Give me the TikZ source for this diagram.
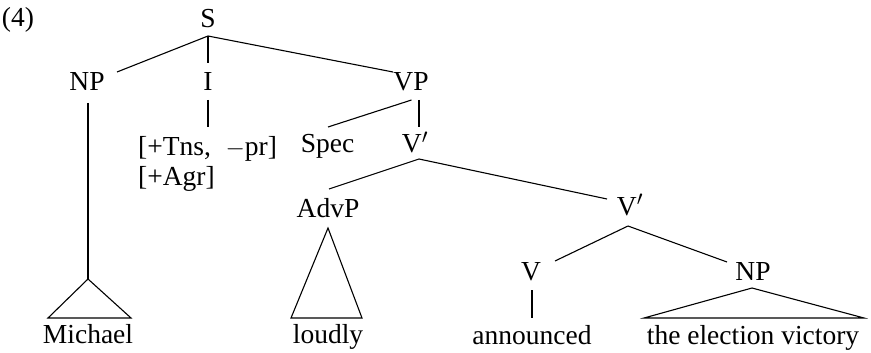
\documentclass[tikz,border=0pt]{standalone}
\usepackage{fontspec}
\setmainfont{Liberation Serif}
\begin{document}
\begin{tikzpicture}[x=1pt,y=-1pt,
  lbl/.style={anchor=base,inner sep=0pt,font=\fontsize{27.5}{30}\selectfont},
  edge/.style={line width=1.1pt},
  every path/.style={line join=miter}]
\useasboundingbox (0,0) rectangle (871,353);
% labels
\node[lbl] (ex) at (18,27) {(4)};
\node[lbl] (S) at (208,28) {S};
\node[lbl] (NP) at (87,90.5) {NP};
\node[lbl] (I) at (208,90.5) {I};
\node[lbl] (VP) at (411,90.5) {VP};
\node[lbl,anchor=base west] (feat) at (138,155) {[+Tns,\; $-$pr]};
\node[lbl,anchor=base west] (agr) at (138,185) {[+Agr]};
\node[lbl] (Spec) at (327.5,153) {Spec};
\node[lbl] (Vb) at (415,153) {V$'$};
\node[lbl] (AdvP) at (328,217) {AdvP};
\node[lbl] (Vb2) at (630,215) {V$'$};
\node[lbl] (V) at (531,280) {V};
\node[lbl] (NPb) at (753,280) {NP};
\node[lbl] (Mi) at (88,343) {Michael};
\node[lbl] (lo) at (328,343) {loudly};
\node[lbl] (an) at (532,344) {announced};
\node[lbl] (ev) at (753,344) {the election victory};
% connectors
\draw[edge] ([shift={(0,8)}]S.base) -- ([shift={(30,-18.5)}]NP.base);
\draw[edge] ([shift={(0,8)}]S.base) -- ([shift={(0,-27.5)}]I.base);
\draw[edge] ([shift={(0,8)}]S.base) -- ([shift={(-18,-18.5)}]VP.base);
\draw[edge] ([shift={(1,12.5)}]NP.base) -- ([shift={(0,-64)}]Mi.base);
\draw[edge] ([shift={(0,-64)}]Mi.base) -- ([shift={(-40,-25)}]Mi.base) -- ([shift={(43,-25)}]Mi.base) -- cycle;
\draw[edge] ([shift={(0,9.5)}]I.base) -- ([shift={(70,-28)}]feat.base west);
\draw[edge] ([shift={(0.5,9.5)}]VP.base) -- ([shift={(0.5,-26)}]Spec.base);
\draw[edge] ([shift={(8,9.5)}]VP.base) -- ([shift={(4,-26)}]Vb.base);
\draw[edge] ([shift={(4,6)}]Vb.base) -- ([shift={(1,-28)}]AdvP.base);
\draw[edge] ([shift={(4,6)}]Vb.base) -- ([shift={(-23,-16)}]Vb2.base);
\draw[edge] ([shift={(0,11)}]AdvP.base) -- ([shift={(-37,-25)}]lo.base) -- ([shift={(34,-25)}]lo.base) -- cycle;
\draw[edge] ([shift={(-2,11)}]Vb2.base) -- ([shift={(24,-19)}]V.base);
\draw[edge] ([shift={(-2,11)}]Vb2.base) -- ([shift={(-26,-18)}]NPb.base);
\draw[edge] ([shift={(1,10)}]V.base) -- ([shift={(0,-26)}]an.base);
\draw[edge] ([shift={(-1,8)}]NPb.base) -- ([shift={(-109,-26)}]ev.base) -- ([shift={(111,-26)}]ev.base) -- cycle;
\end{tikzpicture}
\end{document}
